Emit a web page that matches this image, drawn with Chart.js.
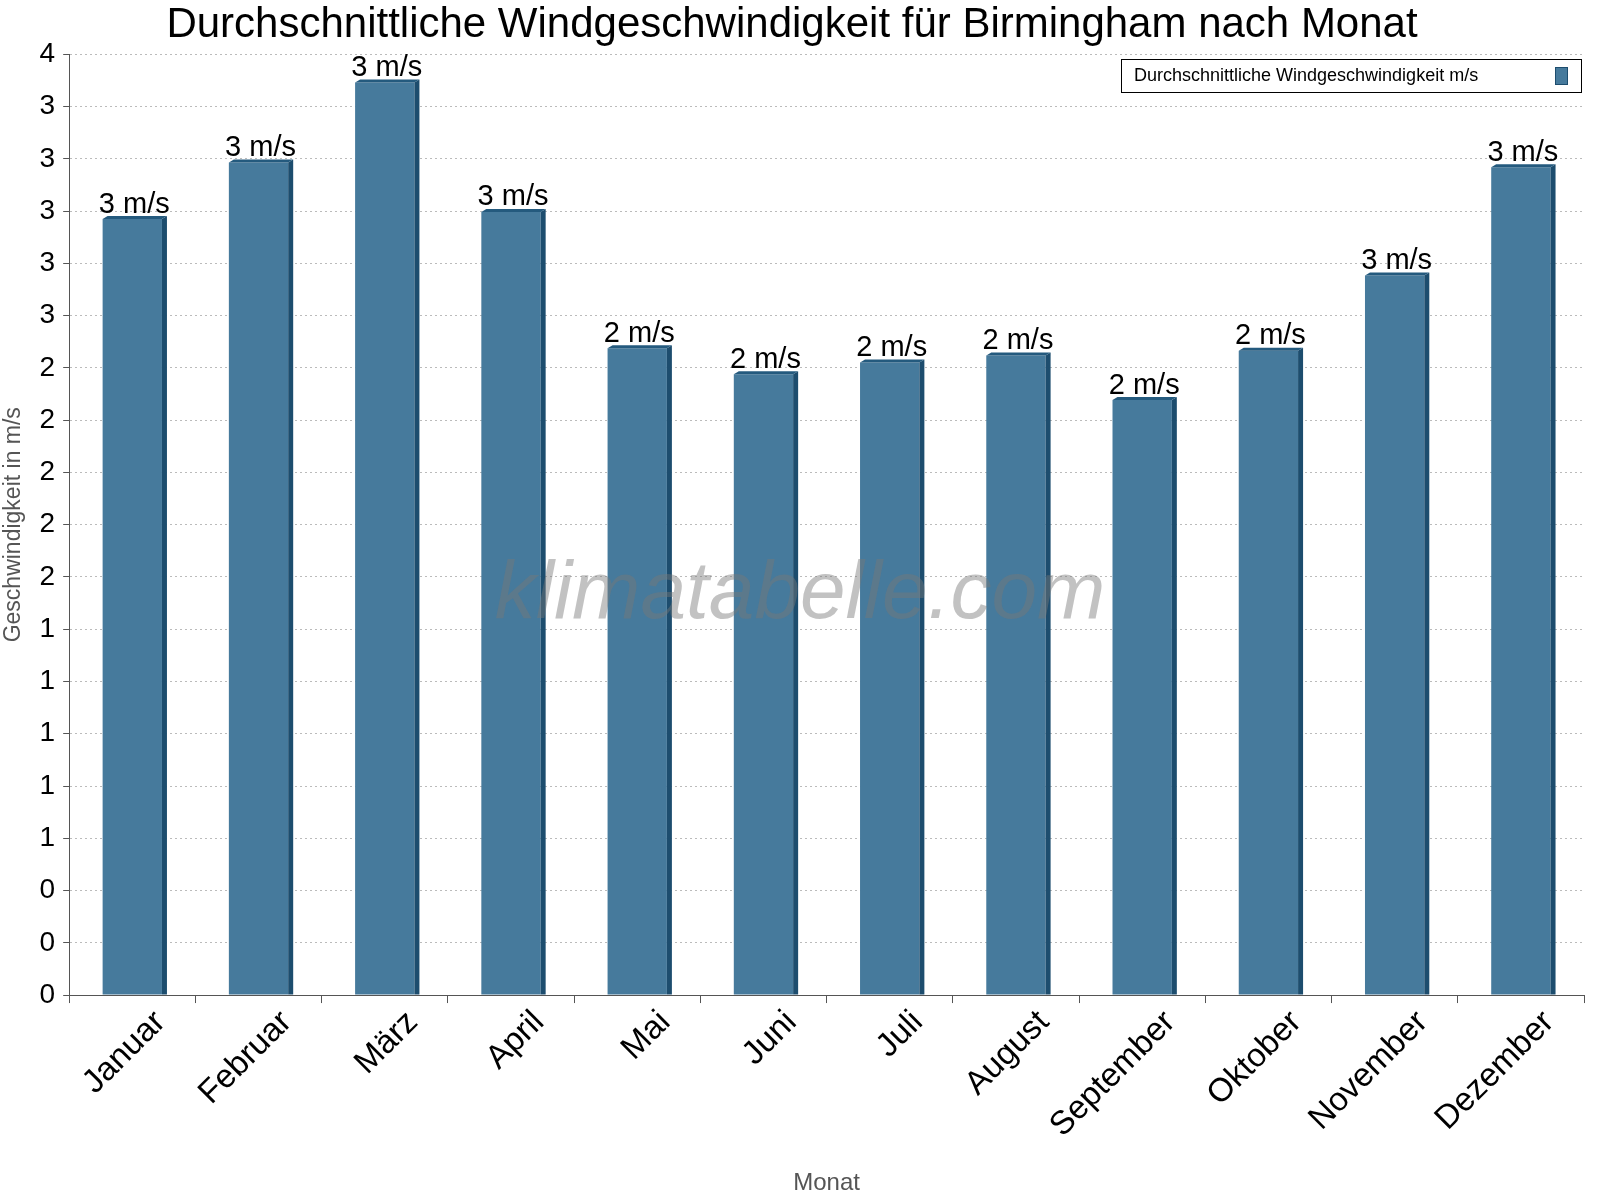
<!DOCTYPE html>
<html>
<head>
<meta charset="utf-8">
<script src="https://cdn.jsdelivr.net/npm/chart.js@4"></script>
<style>
  body { margin:0; background:#fff; }
</style>
</head>
<body>
<canvas id="ch" width="1600" height="1200"></canvas>
<script>
const months = ['Januar','Februar','März','April','Mai','Juni','Juli','August','September','Oktober','November','Dezember'];
const windSpeed = [3.30, 3.54, 3.88, 3.33, 2.75, 2.64, 2.69, 2.72, 2.53, 2.74, 3.06, 3.52];
const yTickLabels = ['0','0','0','1','1','1','1','1','2','2','2','2','2','3','3','3','3','3','4'];
const seriesName = 'Durchschnittliche Windgeschwindigkeit m/s';

const FONT = '"Liberation Sans", Arial, sans-serif';

// side + top faces for the 3D look, plus value labels
const bar3d = {
  id: 'bar3d',
  afterDatasetsDraw(chart) {
    const ctx = chart.ctx;
    const meta = chart.getDatasetMeta(0);
    const d = 5;
    ctx.save();
    meta.data.forEach((bar, i) => {
      const half = bar.width / 2;
      const l = bar.x - half, r = bar.x + half, t = bar.y, b = bar.base;
      ctx.fillStyle = '#1d4d6e';
      ctx.beginPath();
      ctx.moveTo(r, t); ctx.lineTo(r + d, t - 3); ctx.lineTo(r + d, b); ctx.lineTo(r, b);
      ctx.closePath(); ctx.fill();
      ctx.fillStyle = '#245a7e';
      ctx.beginPath();
      ctx.moveTo(l, t); ctx.lineTo(l + d, t - 3); ctx.lineTo(r + d, t - 3); ctx.lineTo(r, t);
      ctx.closePath(); ctx.fill();
      ctx.fillStyle = '#000';
      ctx.font = '29px ' + FONT;
      ctx.textAlign = 'center';
      ctx.textBaseline = 'bottom';
      ctx.fillText(Math.floor(windSpeed[i]) + ' m/s', bar.x + 2, t);
    });
    ctx.restore();
  },
  afterDraw(chart) {
    const ctx = chart.ctx;
    ctx.save();
    // watermark
    ctx.font = 'italic 82px ' + FONT;
    ctx.fillStyle = 'rgba(120,120,120,0.45)';
    ctx.textAlign = 'center';
    ctx.textBaseline = 'middle';
    ctx.fillText('klimatabelle.com', 800, 595);
    // legend box
    const x0 = 1121, y0 = 59, w = 460, h = 33;
    ctx.fillStyle = '#fff';
    ctx.fillRect(x0, y0, w, h);
    ctx.strokeStyle = '#000';
    ctx.lineWidth = 1;
    ctx.strokeRect(x0 + 0.5, y0 + 0.5, w, h);
    ctx.font = '18px ' + FONT;
    ctx.fillStyle = '#000';
    ctx.textAlign = 'left';
    ctx.textBaseline = 'middle';
    ctx.fillText(seriesName, x0 + 13, y0 + 17);
    ctx.fillStyle = '#467a9c';
    ctx.fillRect(x0 + 434, y0 + 8, 12, 17);
    ctx.strokeStyle = '#1d4d6e';
    ctx.strokeRect(x0 + 434.5, y0 + 8.5, 12, 17);
    ctx.restore();
  }
};

new Chart(document.getElementById('ch'), {
  type: 'bar',
  data: {
    labels: months,
    datasets: [{
      label: seriesName,
      data: windSpeed,
      backgroundColor: '#467a9c',
      categoryPercentage: 0.94,
      barPercentage: 0.5
    }]
  },
  options: {
    responsive: false,
    animation: false,
    devicePixelRatio: 1,
    layout: { padding: { top: 0, right: 16, left: 0, bottom: 2 } },
    plugins: {
      legend: { display: false },
      tooltip: { enabled: false },
      title: {
        display: true,
        text: 'Durchschnittliche Windgeschwindigkeit für Birmingham nach Monat',
        color: '#000',
        font: { family: FONT, size: 42, weight: 'normal' },
        padding: { top: 0, bottom: 4 }
      }
    },
    scales: {
      x: {
        grid: { display: true, drawOnChartArea: false, color: '#555', tickLength: 8, offset: true },
        border: { color: '#555' },
        ticks: {
          color: '#000',
          font: { family: FONT, size: 33 },
          maxRotation: 45, minRotation: 45,
          padding: 0,
          labelOffset: 28
        },
        title: {
          display: true, text: 'Monat', color: '#555',
          font: { family: FONT, size: 24 }, padding: { top: 24, bottom: 0 }
        }
      },
      y: {
        min: 0, max: 4,
        ticks: {
          stepSize: 4 / 18,
          color: '#000',
          font: { family: FONT, size: 28 },
          callback: (v, i) => yTickLabels[i],
          padding: 8
        },
        grid: { color: '#bbb', tickLength: 6, tickColor: '#555' },
        border: { color: '#555', dash: [2, 3] },
        title: {
          display: true, text: 'Geschwindigkeit in m/s', color: '#555',
          font: { family: FONT, size: 23 }, padding: { top: 0, bottom: 4 }
        }
      }
    }
  },
  plugins: [bar3d]
});
</script>
</body>
</html>
